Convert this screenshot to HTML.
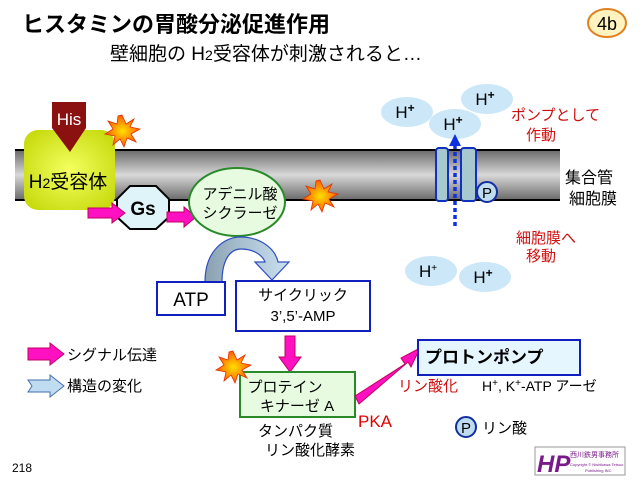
<!DOCTYPE html>
<html><head><meta charset="utf-8"><style>
html,body{margin:0;padding:0;background:#fff;}
svg{display:block;font-family:"Liberation Sans","Noto Sans CJK JP",sans-serif;}
</style></head><body>
<svg width="640" height="480" viewBox="0 0 640 480" xmlns="http://www.w3.org/2000/svg">
<defs>
<linearGradient id="mem" x1="0" y1="0" x2="0" y2="1">
<stop offset="0" stop-color="#6a6a6a"/><stop offset="0.5" stop-color="#d8d8d8"/><stop offset="1" stop-color="#6a6a6a"/>
</linearGradient>
<linearGradient id="arc" x1="0" y1="0" x2="1" y2="0">
<stop offset="0" stop-color="#8aa0b0"/><stop offset="0.45" stop-color="#a8c0d0"/><stop offset="1" stop-color="#c8e0f0"/>
</linearGradient>
<radialGradient id="yg" cx="0.5" cy="0.5" r="0.6"><stop offset="0" stop-color="#f4ff60"/><stop offset="1" stop-color="#c8dc10"/></radialGradient>
<radialGradient id="burst" cx="0.5" cy="0.5" r="0.5"><stop offset="0" stop-color="#ffe000"/><stop offset="1" stop-color="#ff5a00"/></radialGradient>
<g id="star"><polygon points="0,-16 4,-7 12,-12 8,-4 18,-2 9,3 14,11 5,7 2,16 -2,8 -9,14 -7,5 -17,3 -9,-2 -14,-10 -5,-7 -4,-15" fill="url(#burst)" stroke="#e03000" stroke-width="0.8"/></g>
</defs>

<text x="22" y="32" font-size="22" font-weight="bold">ヒスタミンの胃酸分泌促進作用</text>
<text x="110" y="60" font-size="19">壁細胞の H<tspan font-size="14">2</tspan>受容体が刺激されると…</text>
<ellipse cx="607" cy="23" rx="19" ry="14" fill="#fff4c0" stroke="#e08020" stroke-width="2"/>
<text x="607" y="30" font-size="18" text-anchor="middle">4b</text>

<rect x="15" y="150" width="545" height="50" fill="url(#mem)"/>
<line x1="15" y1="150" x2="560" y2="150" stroke="#000" stroke-width="2"/>
<line x1="15" y1="200" x2="560" y2="200" stroke="#000" stroke-width="2"/>

<rect x="24" y="130" width="91" height="80" rx="14" fill="url(#yg)"/>
<polygon points="52,102 86,102 86,128 70,152 52,128" fill="#8b1010"/>
<text x="69" y="125" font-size="17" fill="#fff" text-anchor="middle">His</text>
<text x="68" y="188" font-size="19" text-anchor="middle">H<tspan font-size="14">2</tspan>受容体</text>
<use href="#star" x="122" y="131"/>

<polygon points="130,186 156,186 169,199 169,217 156,229 130,229 117,217 117,199" fill="#dff4f8" stroke="#000" stroke-width="2"/>
<text x="143" y="215" font-size="19" font-weight="bold" text-anchor="middle">Gs</text>
<polygon points="88,208 112,208 112,203 125,213 112,223 112,218 88,218" fill="#ff10c0" stroke="#c00060" stroke-width="1"/>
<polygon points="167,212 184,212 184,207 196,217 184,227 184,222 167,222" fill="#ff10c0" stroke="#c00060" stroke-width="1"/>

<ellipse cx="237" cy="202" rx="48" ry="34" fill="#e6fbe0" stroke="#2a8a2a" stroke-width="2"/>
<text x="240" y="199" font-size="15" text-anchor="middle">アデニル酸</text>
<text x="240" y="218" font-size="15" text-anchor="middle">シクラーゼ</text>
<use href="#star" x="320" y="196"/>

<!-- curved arrow -->
<path d="M205,282 C205,250 225,237 240,237 C260,237 275,248 278,262 L289,262 L272,280 L255,262 L265,262 C262,254 252,249 241,249 C230,249 222,260 222,282 Z" fill="url(#arc)" stroke="#3050c0" stroke-width="1.2"/>

<rect x="157" y="282" width="68" height="33" fill="#fff" stroke="#1020c0" stroke-width="2"/>
<text x="191" y="306" font-size="19" text-anchor="middle">ATP</text>
<rect x="236" y="281" width="134" height="50" fill="#fff" stroke="#1020c0" stroke-width="2"/>
<text x="303" y="300" font-size="15" text-anchor="middle">サイクリック</text>
<text x="303" y="321" font-size="15" text-anchor="middle">3’,5’-AMP</text>

<polygon points="285,336 295,336 295,357 301,357 290,372 279,357 285,357" fill="#ff10c0" stroke="#c00060" stroke-width="1"/>

<rect x="240" y="372" width="115" height="45" fill="#e6fbe0" stroke="#2a8a2a" stroke-width="2"/>
<text x="285" y="392" font-size="15" text-anchor="middle">プロテイン</text>
<text x="297" y="411" font-size="15" text-anchor="middle">キナーゼ A</text>
<use href="#star" x="233" y="367"/>
<text x="358" y="427" font-size="17" fill="#e00000">PKA</text>
<text x="258" y="436" font-size="15">タンパク質</text>
<text x="265" y="455" font-size="15">リン酸化酵素</text>

<polygon points="355,396 405,364 401,358 420,348 411,367 408,362 359,404" fill="#ff10c0" stroke="#c00060" stroke-width="1"/>

<rect x="418" y="340" width="162" height="35" fill="#e6f6ff" stroke="#1020c0" stroke-width="2"/>
<text x="425" y="363" font-size="17" font-weight="bold">プロトンポンプ</text>
<text x="398" y="391" font-size="15" fill="#d01010">リン酸化</text>
<text x="482" y="391" font-size="14">H<tspan font-size="10" dy="-5">+</tspan><tspan dy="5">, K</tspan><tspan font-size="10" dy="-5">+</tspan><tspan dy="5">-ATP アーゼ</tspan></text>
<circle cx="466" cy="427" r="10" fill="#c0dcf0" stroke="#1030a0" stroke-width="2"/>
<text x="466" y="433" font-size="15" text-anchor="middle">P</text>
<text x="482" y="433" font-size="15">リン酸</text>

<rect x="436" y="148" width="12" height="53" rx="3" fill="#a8c8d0" stroke="#1030c0" stroke-width="2"/>
<rect x="461" y="148" width="15" height="53" rx="3" fill="#a8c8d0" stroke="#1030c0" stroke-width="2"/>
<circle cx="487" cy="192" r="10" fill="#c0dcf0" stroke="#1030a0" stroke-width="2"/>
<text x="487" y="198" font-size="15" text-anchor="middle">P</text>

<g fill="#cce8f8">
<ellipse cx="407" cy="112" rx="26" ry="15"/>
<ellipse cx="487" cy="99" rx="26" ry="15"/>
<ellipse cx="455" cy="124" rx="26" ry="15"/>
<ellipse cx="431" cy="271" rx="26" ry="15"/>
<ellipse cx="485" cy="277" rx="26" ry="15"/>
</g>
<g font-size="17" text-anchor="middle">
<text x="405" y="118">H<tspan font-size="12" dy="-6" font-weight="bold">+</tspan></text>
<text x="485" y="105">H<tspan font-size="12" dy="-6" font-weight="bold">+</tspan></text>
<text x="453" y="130">H<tspan font-size="12" dy="-6" font-weight="bold">+</tspan></text>
<text x="428" y="277">H<tspan font-size="10" dy="-6">+</tspan></text>
<text x="483" y="283">H<tspan font-size="12" dy="-6" font-weight="bold">+</tspan></text>
</g>
<line x1="455" y1="226" x2="455" y2="146" stroke="#1030e0" stroke-width="3.5" stroke-dasharray="4,3"/>
<polygon points="455,134 449,146 461,146" fill="#1030e0"/>

<text x="511" y="120" font-size="15" fill="#d01010">ポンプとして</text>
<text x="526" y="140" font-size="15" fill="#d01010">作動</text>
<text x="565" y="183" font-size="16">集合管</text>
<text x="569" y="204" font-size="16">細胞膜</text>
<text x="516" y="243" font-size="15" fill="#d01010">細胞膜へ</text>
<text x="526" y="261" font-size="15" fill="#d01010">移動</text>

<polygon points="28,348 50,348 50,343 64,354 50,365 50,360 28,360" fill="#ff10c0" stroke="#c00060" stroke-width="1"/>
<text x="67" y="360" font-size="15">シグナル伝達</text>
<polygon points="28,380 50,380 50,375 64,386 50,397 50,392 28,392 32,386" fill="#c0dcf0" stroke="#4070b0" stroke-width="1"/>
<text x="67" y="391" font-size="15">構造の変化</text>

<text x="12" y="472" font-size="12">218</text>
<rect x="535" y="447" width="90" height="28" fill="#fff" stroke="#999" stroke-width="1"/>
<text x="537" y="472" font-size="24" font-weight="bold" font-style="italic" fill="#7a1a8a">HP</text>
<text x="570" y="457" font-size="7" fill="#7a1a8a">西川鉄男事務所</text>
<text x="570" y="466" font-size="4" fill="#7a1a8a">Copyright © Nishikawa Tetsuo</text>
<text x="585" y="472" font-size="4" fill="#7a1a8a">Publishing INC</text>
</svg>
</body></html>
